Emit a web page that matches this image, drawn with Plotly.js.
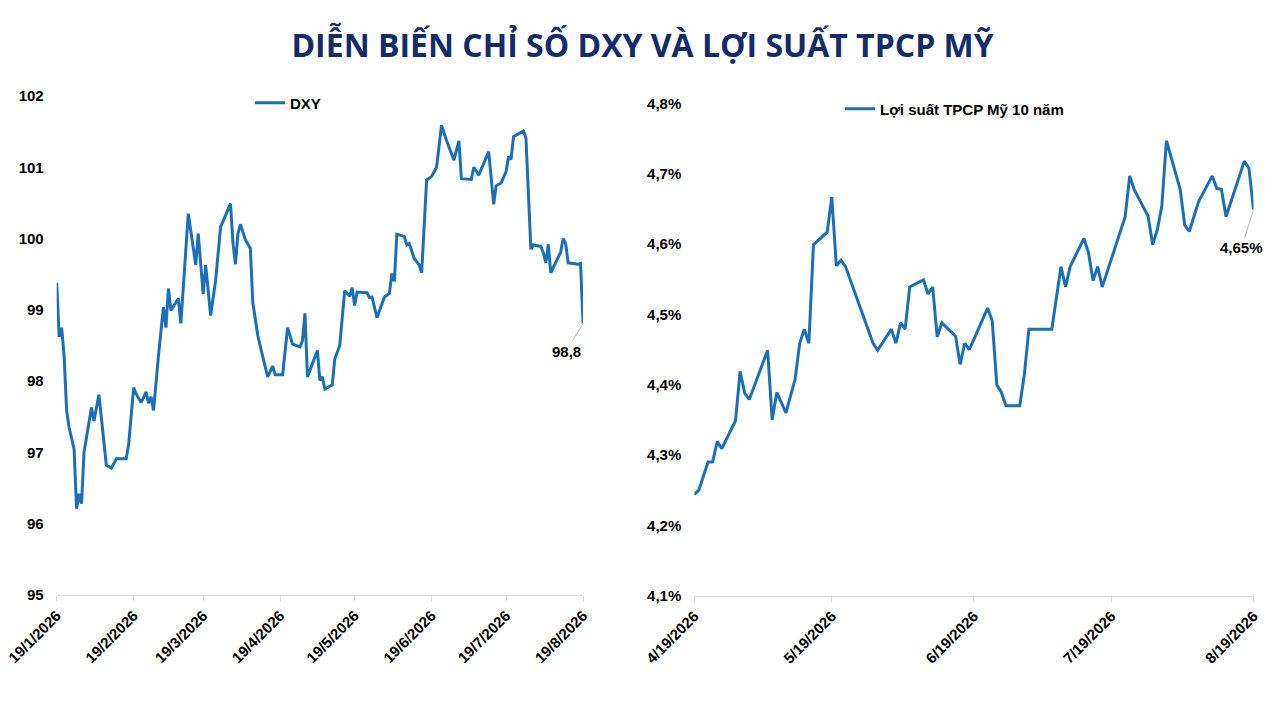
<!DOCTYPE html>
<html>
<head>
<meta charset="utf-8">
<script src="https://cdn.plot.ly/plotly-3.0.1.min.js"></script>
<style>html,body{margin:0;padding:0;background:#fff;}#chart{width:1280px;height:720px;}</style>
</head>
<body>
<div id="chart"></div>
<script>
const chartTitle = "DIỄN BIẾN CHỈ SỐ DXY VÀ LỢI SUẤT TPCP MỸ";

const dxyName = "DXY";
const dxyDates = [
"2026-01-19","2026-01-20","2026-01-21","2026-01-22","2026-01-23","2026-01-24","2026-01-26","2026-01-27","2026-01-28","2026-01-29","2026-01-30",
"2026-02-02","2026-02-03","2026-02-05","2026-02-08","2026-02-10","2026-02-12","2026-02-16","2026-02-17","2026-02-19","2026-02-20","2026-02-22","2026-02-24","2026-02-25","2026-02-26","2026-02-27",
"2026-03-01","2026-03-03","2026-03-04","2026-03-05","2026-03-06","2026-03-09","2026-03-10","2026-03-13","2026-03-16","2026-03-17","2026-03-19","2026-03-20","2026-03-22","2026-03-24","2026-03-26","2026-03-30","2026-03-31",
"2026-04-01","2026-04-02","2026-04-03","2026-04-05","2026-04-07","2026-04-08","2026-04-10","2026-04-12","2026-04-14","2026-04-16","2026-04-17","2026-04-20","2026-04-21","2026-04-22","2026-04-24","2026-04-27","2026-04-28","2026-04-29","2026-04-30",
"2026-05-04","2026-05-05","2026-05-06","2026-05-07","2026-05-10","2026-05-11","2026-05-13","2026-05-15","2026-05-17","2026-05-18","2026-05-19","2026-05-20","2026-05-24","2026-05-25","2026-05-26","2026-05-28","2026-05-31",
"2026-06-02","2026-06-03","2026-06-04","2026-06-05","2026-06-08","2026-06-09","2026-06-10","2026-06-12","2026-06-14","2026-06-15","2026-06-17","2026-06-19","2026-06-21","2026-06-23","2026-06-25","2026-06-28","2026-06-30",
"2026-07-01","2026-07-05","2026-07-06","2026-07-08","2026-07-12","2026-07-14","2026-07-15","2026-07-17","2026-07-19","2026-07-20","2026-07-21","2026-07-22","2026-07-26","2026-07-27","2026-07-29","2026-07-30",
"2026-08-02","2026-08-03","2026-08-04","2026-08-05","2026-08-06","2026-08-10","2026-08-11","2026-08-12","2026-08-13","2026-08-17","2026-08-18","2026-08-19"
];
const dxyValues = [
99.38,98.62,98.75,98.34,97.59,97.35,97.05,96.21,96.42,96.28,97.00,
97.63,97.44,97.81,96.82,96.78,96.91,96.91,97.12,97.91,97.82,97.70,97.85,97.69,97.78,97.59,
98.36,99.04,98.75,99.30,98.99,99.16,98.81,100.35,99.63,100.07,99.22,99.63,98.92,99.41,100.16,100.49,99.94,
99.64,100.07,100.20,99.98,99.86,99.10,98.64,98.34,98.06,98.21,98.09,98.09,98.41,98.75,98.52,98.48,98.57,98.95,98.06,
98.43,98.01,98.06,97.89,97.95,98.31,98.50,99.27,99.19,99.31,99.06,99.25,99.24,99.17,99.18,98.89,99.18,
99.23,99.51,99.40,100.06,100.03,99.91,99.93,99.72,99.63,99.52,100.82,100.87,101.00,101.59,101.38,101.10,101.37,
100.84,100.83,101.00,100.89,101.22,100.48,100.74,100.78,100.94,101.15,101.11,101.43,101.51,101.41,99.85,99.91,
99.89,99.80,99.66,99.92,99.52,99.81,100.00,99.93,99.66,99.64,99.65,98.81
];
const dxyTickVals = ["2026-01-19","2026-02-19","2026-03-19","2026-04-19","2026-05-19","2026-06-19","2026-07-19","2026-08-19"];
const dxyTickText = ["19/1/2026","19/2/2026","19/3/2026","19/4/2026","19/5/2026","19/6/2026","19/7/2026","19/8/2026"];
const dxyYTicks = [95,96,97,98,99,100,101,102];

const yieldName = "Lợi suất TPCP Mỹ 10 năm";
const yieldDates = [
"2026-04-19","2026-04-20","2026-04-22","2026-04-23","2026-04-24","2026-04-25","2026-04-28","2026-04-29","2026-04-30",
"2026-05-01","2026-05-05","2026-05-06","2026-05-07","2026-05-09","2026-05-11","2026-05-12","2026-05-13","2026-05-14","2026-05-15","2026-05-18","2026-05-19","2026-05-20","2026-05-21","2026-05-22","2026-05-28","2026-05-29",
"2026-06-01","2026-06-02","2026-06-03","2026-06-04","2026-06-05","2026-06-08","2026-06-09","2026-06-10","2026-06-11","2026-06-12","2026-06-15","2026-06-16","2026-06-17","2026-06-18","2026-06-22","2026-06-23","2026-06-24","2026-06-25","2026-06-26","2026-06-29","2026-06-30",
"2026-07-01","2026-07-06","2026-07-08","2026-07-09","2026-07-10","2026-07-13","2026-07-14","2026-07-15","2026-07-16","2026-07-17","2026-07-20","2026-07-22","2026-07-23","2026-07-24","2026-07-27","2026-07-28","2026-07-29","2026-07-30","2026-07-31",
"2026-08-03","2026-08-04","2026-08-05","2026-08-07","2026-08-10","2026-08-11","2026-08-12","2026-08-13","2026-08-17","2026-08-18","2026-08-19"
];
const yieldValues = [
4.244,4.250,4.290,4.290,4.319,4.309,4.349,4.419,4.388,
4.379,4.449,4.350,4.389,4.360,4.408,4.459,4.479,4.459,4.599,4.617,4.667,4.569,4.577,4.568,4.459,4.449,
4.479,4.459,4.488,4.479,4.539,4.549,4.529,4.539,4.468,4.488,4.469,4.429,4.459,4.450,4.509,4.491,4.400,4.389,4.370,4.370,4.414,
4.479,4.479,4.568,4.539,4.568,4.608,4.588,4.548,4.568,4.539,4.600,4.639,4.697,4.677,4.640,4.599,4.620,4.654,4.747,
4.678,4.627,4.618,4.660,4.697,4.679,4.678,4.639,4.718,4.708,4.649
];
const yieldTickVals = ["2026-04-19","2026-05-19","2026-06-19","2026-07-19","2026-08-19"];
const yieldTickText = ["4/19/2026","5/19/2026","6/19/2026","7/19/2026","8/19/2026"];
const yieldYTicks = [4.1,4.2,4.3,4.4,4.5,4.6,4.7,4.8];

const lineColor = "#1a6fb7";
const fam = "Liberation Sans, Arial, sans-serif";
const tickFont = {family: fam, size: 15, color: "#000", weight: "bold"};
const xTickFont = {family: fam, size: 15, color: "#000", weight: "bold"};

const traces = [
  {x: dxyDates, y: dxyValues, name: dxyName, type: "scatter", mode: "lines",
   line: {color: lineColor, width: 3}, xaxis: "x", yaxis: "y", legend: "legend", cliponaxis: false},
  {x: yieldDates, y: yieldValues, name: yieldName, type: "scatter", mode: "lines",
   line: {color: lineColor, width: 3}, xaxis: "x2", yaxis: "y2", legend: "legend2", cliponaxis: false}
];

const xBase = {type: "date", showgrid: false, zeroline: false, showline: true, linecolor: "#d9d9d9", linewidth: 1,
  ticks: "outside", tickcolor: "#d9d9d9", ticklen: 5, tickangle: -45, tickfont: xTickFont, fixedrange: true, automargin: false};
const yBase = {showgrid: false, zeroline: false, showline: false, ticks: "", tickfont: tickFont, ticklabelstandoff: 12, fixedrange: true, automargin: false};

const lastD = dxyValues.length - 1, lastY = yieldValues.length - 1;

const layout = {
  width: 1280, height: 720,
  margin: {l: 0, r: 0, t: 0, b: 0},
  paper_bgcolor: "#fff", plot_bgcolor: "#fff",
  separators: ",.",
  showlegend: true,
  title: {text: chartTitle, x: 0.502, xanchor: "center", y: 1 - 46/720, yanchor: "middle",
    font: {family: "Open Sans, sans-serif", size: 32, color: "#122c6b", weight: "bold"}},
  xaxis: Object.assign({}, xBase, {domain: [0.0443, 0.4555], anchor: "y", range: [dxyDates[0], dxyDates[lastD]],
    tickmode: "array", tickvals: dxyTickVals, ticktext: dxyTickText}),
  yaxis: Object.assign({}, yBase, {domain: [1 - 595/720, 1 - 96/720], anchor: "x", range: [95, 102],
    tickmode: "array", tickvals: dxyYTicks, ticktext: dxyYTicks.map(v => String(v))}),
  xaxis2: Object.assign({}, xBase, {domain: [0.5424, 0.9793], anchor: "y2", range: [yieldDates[0], yieldDates[lastY]],
    tickmode: "array", tickvals: yieldTickVals, ticktext: yieldTickText}),
  yaxis2: Object.assign({}, yBase, {domain: [1 - 595.6/720, 1 - 103.5/720], anchor: "x2", range: [4.1, 4.8],
    tickmode: "array", tickvals: yieldYTicks, ticktext: yieldYTicks.map(v => v.toFixed(1).replace(".", ",") + "%")}),
  legend: {x: 250/1280, xanchor: "left", y: 1 - 103/720, yanchor: "middle", bgcolor: "rgba(0,0,0,0)",
    borderwidth: 0, font: {family: fam, size: 15, color: "#000", weight: "bold"}},
  legend2: {x: 840/1280, xanchor: "left", y: 1 - 109/720, yanchor: "middle", bgcolor: "rgba(0,0,0,0)",
    borderwidth: 0, font: {family: fam, size: 15, color: "#000", weight: "bold"}},
  annotations: [
    {x: dxyDates[lastD], y: dxyValues[lastD], xref: "x", yref: "y",
     text: dxyValues[lastD].toFixed(1).replace(".", ","),
     showarrow: true, arrowhead: 0, arrowwidth: 0.8, arrowcolor: "#a6a6a6", ax: -17, ay: 28,
     font: {family: fam, size: 15, color: "#000", weight: "bold"}},
    {x: yieldDates[lastY], y: yieldValues[lastY], xref: "x2", yref: "y2",
     text: yieldValues[lastY].toFixed(2).replace(".", ",") + "%",
     showarrow: true, arrowhead: 0, arrowwidth: 0.8, arrowcolor: "#a6a6a6", ax: -12, ay: 38,
     font: {family: fam, size: 15, color: "#000", weight: "bold"}}
  ]
};

Plotly.newPlot("chart", traces, layout, {staticPlot: true, displayModeBar: false});
</script>
</body>
</html>
